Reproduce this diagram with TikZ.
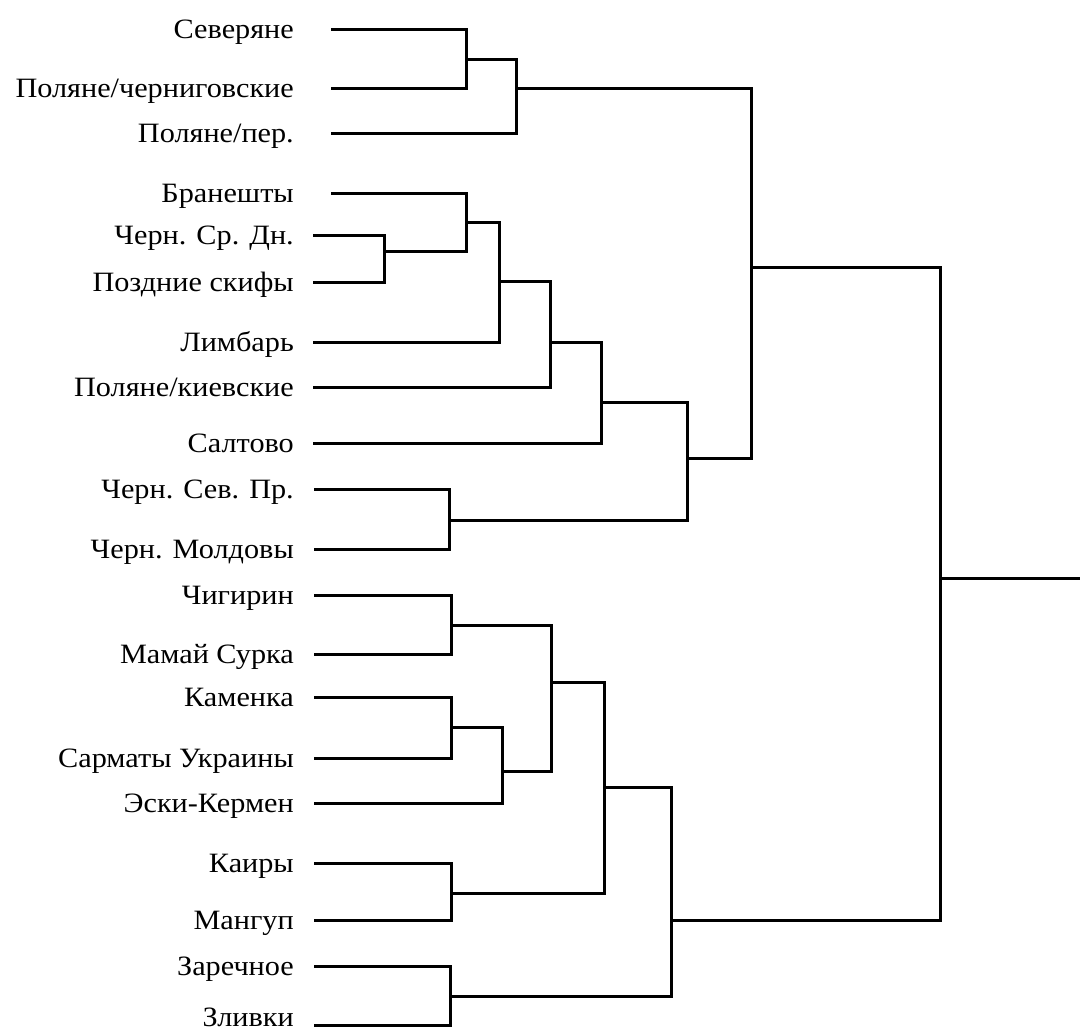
\documentclass[tikz,border=0pt]{standalone}
\usepackage{fontspec}
\setmainfont{Liberation Serif}[FakeStretch=1.08]
\begin{document}
\begin{tikzpicture}[x=1pt,y=-1pt,
  lbl/.style={anchor=base east, inner sep=0pt, font=\fontsize{28}{31}\selectfont},
  br/.style={draw, line width=3pt, line join=miter, line cap=rect}]
\useasboundingbox (0,0) rectangle (1080,1031);
% labels
\node[lbl] (n1) at (294,38) {Северяне};
\node[lbl] (n2) at (294,97) {Поляне/черниговские};
\node[lbl] (n3) at (294,142) {Поляне/пер.};
\node[lbl] (n4) at (294,202) {Бранешты};
\node[lbl] (n5) at (294,244) {Черн. Ср. Дн.};
\node[lbl] (n6) at (294,291) {Поздние скифы};
\node[lbl] (n7) at (294,351) {Лимбарь};
\node[lbl] (n8) at (294,396) {Поляне/киевские};
\node[lbl] (n9) at (294,452) {Салтово};
\node[lbl] (n10) at (294,498) {Черн. Сев. Пр.};
\node[lbl] (n11) at (294,558) {Черн. Молдовы};
\node[lbl] (n12) at (294,604) {Чигирин};
\node[lbl] (n13) at (294,663) {Мамай Сурка};
\node[lbl] (n14) at (294,706) {Каменка};
\node[lbl] (n15) at (294,767) {Сарматы Украины};
\node[lbl] (n16) at (294,812) {Эски-Кермен};
\node[lbl] (n17) at (294,872) {Каиры};
\node[lbl] (n18) at (294,929) {Мангуп};
\node[lbl] (n19) at (294,975) {Заречное};
\node[lbl] (n20) at (294,1026) {Зливки};
% leaf line starts
\coordinate (l1) at (332,29);
\coordinate (l2) at (332,88);
\coordinate (l3) at (332,133);
\coordinate (l4) at (332,193);
\coordinate (l5) at (314,235);
\coordinate (l6) at (314,282);
\coordinate (l7) at (314,342);
\coordinate (l8) at (314,387);
\coordinate (l9) at (314,443);
\coordinate (l10) at (315,489);
\coordinate (l11) at (315,549);
\coordinate (l12) at (315,595);
\coordinate (l13) at (315,654);
\coordinate (l14) at (315,697);
\coordinate (l15) at (315,758);
\coordinate (l16) at (315,803);
\coordinate (l17) at (315,863);
\coordinate (l18) at (315,920);
\coordinate (l19) at (315,966);
\coordinate (l20) at (315,1025);
% internal joins
\coordinate (A) at (466,59);
\coordinate (B) at (516,88);
\coordinate (C) at (384,251);
\coordinate (D) at (466,222);
\coordinate (E) at (499,281);
\coordinate (F) at (550,342);
\coordinate (G) at (601,402);
\coordinate (H) at (449,520);
\coordinate (I) at (687,458);
\coordinate (J) at (751,267);
\coordinate (K) at (451,625);
\coordinate (M) at (451,727);
\coordinate (N) at (502,771);
\coordinate (O) at (551,682);
\coordinate (P) at (451,893);
\coordinate (Q) at (604,787);
\coordinate (R) at (450,996);
\coordinate (S) at (671,920);
\coordinate (T) at (940,578);
\coordinate (root) at (1080,578);
% branches
\path[br] (l1) -| (A); \path[br] (l2) -| (A);
\path[br] (A) -| (B); \path[br] (l3) -| (B);
\path[br] (l5) -| (C); \path[br] (l6) -| (C);
\path[br] (l4) -| (D); \path[br] (C) -| (D);
\path[br] (D) -| (E); \path[br] (l7) -| (E);
\path[br] (E) -| (F); \path[br] (l8) -| (F);
\path[br] (F) -| (G); \path[br] (l9) -| (G);
\path[br] (l10) -| (H); \path[br] (l11) -| (H);
\path[br] (G) -| (I); \path[br] (H) -| (I);
\path[br] (B) -| (J); \path[br] (I) -| (J);
\path[br] (l12) -| (K); \path[br] (l13) -| (K);
\path[br] (l14) -| (M); \path[br] (l15) -| (M);
\path[br] (M) -| (N); \path[br] (l16) -| (N);
\path[br] (K) -| (O); \path[br] (N) -| (O);
\path[br] (l17) -| (P); \path[br] (l18) -| (P);
\path[br] (O) -| (Q); \path[br] (P) -| (Q);
\path[br] (l19) -| (R); \path[br] (l20) -| (R);
\path[br] (Q) -| (S); \path[br] (R) -| (S);
\path[br] (J) -| (T); \path[br] (S) -| (T);
\path[br] (T) -- (root);
\end{tikzpicture}
\end{document}
